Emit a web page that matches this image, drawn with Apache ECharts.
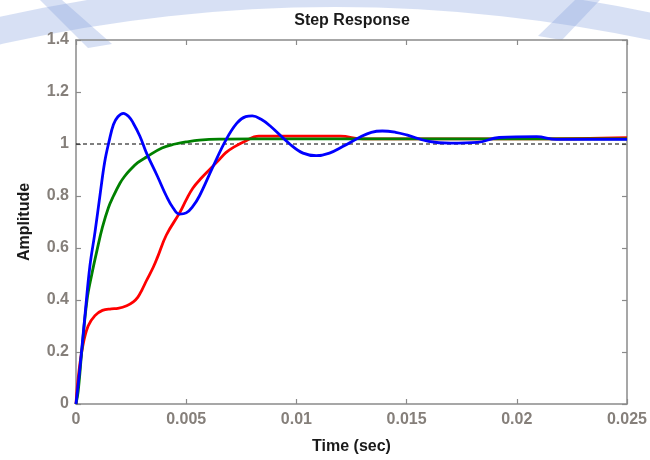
<!DOCTYPE html>
<html><head><meta charset="utf-8">
<script src="https://cdn.jsdelivr.net/npm/echarts@6/dist/echarts.min.js"></script>
<style>html,body{margin:0;padding:0;background:#fff}#c{width:650px;height:460px}</style>
</head><body><div id="c"></div>
<script>
// Tick labels
const xTickLabels = ['0', '0.005', '0.01', '0.015', '0.02', '0.025'];
const yTickLabels = ['0', '0.2', '0.4', '0.6', '0.8', '1', '1.2', '1.4'];

// Blue response (time, amplitude)
const blueT = [0, 0.00018, 0.0004, 0.00063, 0.00086, 0.0011, 0.0013, 0.0015, 0.0017, 0.0019, 0.00215, 0.0024, 0.0026, 0.0029, 0.0032, 0.0037, 0.0041, 0.0044, 0.0047, 0.005, 0.0053, 0.0056, 0.0062, 0.0068, 0.0073, 0.0077, 0.008, 0.0084, 0.0088, 0.0097, 0.0103, 0.0109, 0.0115, 0.0121, 0.0129, 0.0134, 0.0139, 0.0145, 0.015, 0.016, 0.017, 0.0182, 0.0192, 0.0209, 0.0218, 0.025];
const blueY = [0, 0.14, 0.335, 0.53, 0.66, 0.81, 0.93, 1.01, 1.075, 1.105, 1.118, 1.105, 1.08, 1.03, 0.965, 0.875, 0.80, 0.755, 0.73, 0.735, 0.76, 0.80, 0.91, 1.015, 1.08, 1.105, 1.108, 1.095, 1.07, 1.0, 0.965, 0.955, 0.965, 0.99, 1.027, 1.045, 1.05, 1.045, 1.035, 1.01, 1.003, 1.006, 1.025, 1.028, 1.018, 1.018];

// Green response
const greenT = [0, 0.0001, 0.00027, 0.0005, 0.00072, 0.00095, 0.0012, 0.00147, 0.0017, 0.002, 0.0022, 0.00245, 0.0028, 0.0032, 0.0039, 0.0045, 0.005, 0.0056, 0.0065, 0.008, 0.025];
const greenY = [0, 0.05, 0.21, 0.40, 0.50, 0.59, 0.68, 0.755, 0.80, 0.85, 0.875, 0.90, 0.928, 0.95, 0.985, 1.0, 1.008, 1.015, 1.019, 1.02, 1.02];

// Red response
const redT = [0, 0.0001, 0.0003, 0.00055, 0.00086, 0.0012, 0.0016, 0.0019, 0.0023, 0.0026, 0.0028, 0.003, 0.0032, 0.0035, 0.0037, 0.0041, 0.0047, 0.005, 0.0053, 0.0057, 0.0061, 0.0065, 0.0068, 0.0072, 0.0076, 0.0083, 0.012, 0.013, 0.021, 0.025];
const redY = [0, 0.10, 0.22, 0.30, 0.34, 0.36, 0.366, 0.368, 0.378, 0.393, 0.41, 0.44, 0.475, 0.525, 0.565, 0.65, 0.735, 0.785, 0.83, 0.87, 0.905, 0.94, 0.967, 0.99, 1.008, 1.03, 1.03, 1.02, 1.02, 1.024];

// Reference level
const refT = [0, 0.025];
const refY = [1, 1];

const zip = (a, b) => a.map((v, i) => [v, b[i]]);

const axisGray = '#8a8a8a';
const labelGray = '#857f7a';
const font = 'Liberation Sans';
const wm = 'rgba(130,160,220,0.32)';

const chart = echarts.init(document.getElementById('c'), null, {renderer: 'canvas'});
chart.setOption({
  animation: false,
  backgroundColor: '#fff',
  title: {
    text: 'Step Response', left: 347, top: 8, textAlign: 'center',
    textStyle: {fontFamily: font, fontSize: 16, fontWeight: 'bold', color: '#1a1a1a'}
  },
  graphic: [
    {type: 'sector', z: -10, silent: true,
     shape: {cx: 335, cy: 1525, r0: 1518, r: 1545, startAngle: Math.PI * 1.36, endAngle: Math.PI * 1.64},
     style: {fill: wm}},
    {type: 'polygon', z: -10, silent: true,
     shape: {points: [[40, 0], [62, 0], [112, 44], [88, 48]]}, style: {fill: wm}},
    {type: 'polygon', z: -10, silent: true,
     shape: {points: [[575, 0], [600, 0], [562, 40], [538, 36]]}, style: {fill: wm}}
  ],
  grid: {left: 76, right: 22, top: 40, bottom: 56, containLabel: false},
  xAxis: [{
    type: 'value', min: 0, max: 0.025, interval: 0.005,
    name: 'Time (sec)', nameLocation: 'middle', nameGap: 35,
    nameTextStyle: {fontFamily: font, fontSize: 16, fontWeight: 'bold', color: '#1a1a1a'},
    axisLine: {show: true, onZero: false, lineStyle: {color: axisGray, width: 1.5}},
    axisTick: {show: true, inside: true, length: 5, lineStyle: {color: axisGray, width: 1.2}},
    axisLabel: {fontFamily: font, fontSize: 16, fontWeight: 'bold', color: labelGray, margin: 8,
      formatter: (v) => xTickLabels[Math.round(v / 0.005)]},
    splitLine: {show: false}
  }, {
    type: 'value', position: 'top', min: 0, max: 0.025, interval: 0.005,
    axisLine: {show: true, onZero: false, lineStyle: {color: axisGray, width: 1.5}},
    axisTick: {show: true, inside: true, length: 5, lineStyle: {color: axisGray, width: 1.2}},
    axisLabel: {show: false}, splitLine: {show: false}
  }],
  yAxis: [{
    type: 'value', min: 0, max: 1.4, interval: 0.2,
    name: 'Amplitude', nameLocation: 'middle', nameGap: 43, nameRotate: 90,
    nameTextStyle: {fontFamily: font, fontSize: 16, fontWeight: 'bold', color: '#1a1a1a'},
    axisLine: {show: true, onZero: false, lineStyle: {color: axisGray, width: 1.5}},
    axisTick: {show: true, inside: true, length: 5, lineStyle: {color: axisGray, width: 1.2}},
    axisLabel: {fontFamily: font, fontSize: 16, fontWeight: 'bold', color: labelGray, margin: 7,
      formatter: (v) => yTickLabels[Math.round(v / 0.2)]},
    splitLine: {show: false}
  }, {
    type: 'value', position: 'right', min: 0, max: 1.4, interval: 0.2,
    axisLine: {show: true, onZero: false, lineStyle: {color: axisGray, width: 1.5}},
    axisTick: {show: true, inside: true, length: 5, lineStyle: {color: axisGray, width: 1.2}},
    axisLabel: {show: false}, splitLine: {show: false}
  }],
  series: [
    {type: 'line', name: 'ref', data: zip(refT, refY), showSymbol: false, z: 1,
     lineStyle: {color: '#000', width: 1.2, type: [4, 3]}},
    {type: 'line', name: 'red', data: zip(redT, redY), showSymbol: false, smooth: 0.4, z: 2,
     lineStyle: {color: '#ff0000', width: 2.8}},
    {type: 'line', name: 'green', data: zip(greenT, greenY), showSymbol: false, smooth: 0.4, z: 3,
     lineStyle: {color: '#008000', width: 2.8}},
    {type: 'line', name: 'blue', data: zip(blueT, blueY), showSymbol: false, smooth: 0.4, z: 4,
     lineStyle: {color: '#0000ff', width: 2.8}}
  ]
});
</script>
</body></html>
